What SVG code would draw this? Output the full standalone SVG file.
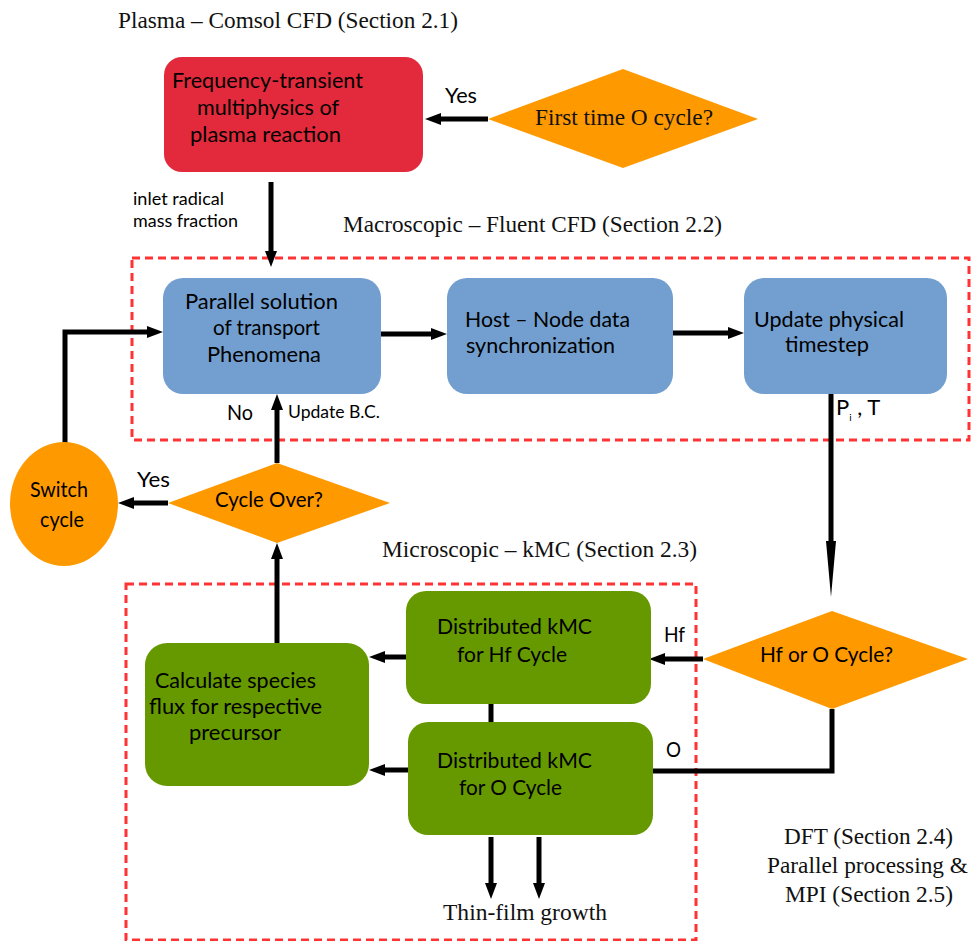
<svg xmlns="http://www.w3.org/2000/svg" width="971" height="941" viewBox="0 0 971 941">
<style>
.serif{font-family:"Liberation Serif","Times New Roman",serif;font-size:23px;fill:#111}
.sans{font-family:Lato,"Liberation Sans",sans-serif;font-size:22px;fill:#000}
.sm{font-size:17px}
.red{fill:#e32a3c}
.blue{fill:#729fcf}
.green{fill:#669900}
.orange{fill:#ff9900}
.dash{fill:none;stroke:#ff3333;stroke-width:3;stroke-dasharray:8 5}
.ln{fill:none;stroke:#000;stroke-width:5}
.ar{fill:none;stroke:#000;stroke-width:5;marker-end:url(#ah)}
</style>
<defs>
<marker id="ah" markerUnits="userSpaceOnUse" markerWidth="16" markerHeight="12" refX="4" refY="6" orient="auto">
<path d="M0,0 L16,6 L0,12 z" fill="#000"/>
</marker>
<marker id="ahl" markerUnits="userSpaceOnUse" markerWidth="56" markerHeight="10" refX="2" refY="5" orient="auto">
<path d="M0,0 L56,5 L0,10 z" fill="#000"/>
</marker>
</defs>
<rect width="971" height="941" fill="#fff"/>

<g id="labels">
<text class="serif" x="118" y="28" textLength="340" lengthAdjust="spacingAndGlyphs">Plasma – Comsol CFD (Section 2.1)</text>
<text class="serif" x="343" y="232" textLength="379" lengthAdjust="spacingAndGlyphs">Macroscopic – Fluent CFD (Section 2.2)</text>
<text class="serif" x="382" y="557" textLength="315" lengthAdjust="spacingAndGlyphs">Microscopic – kMC (Section 2.3)</text>
<text class="serif" x="784" y="844" textLength="169" lengthAdjust="spacingAndGlyphs">DFT (Section 2.4)</text>
<text class="serif" x="767" y="873" textLength="201" lengthAdjust="spacingAndGlyphs">Parallel processing &amp;</text>
<text class="serif" x="785" y="902" textLength="168" lengthAdjust="spacingAndGlyphs">MPI (Section 2.5)</text>
<text class="serif" x="443" y="920" textLength="164" lengthAdjust="spacingAndGlyphs">Thin-film growth</text>
</g>

<g id="frames">
<rect class="dash" x="132" y="258" width="837" height="182"/>
<rect class="dash" x="126" y="584" width="570" height="356"/>
</g>

<g id="connectors">
<path class="ar" d="M271,182 V255"/>
<path class="ar" d="M488,119 H437"/>
<path class="ar" d="M381,334 H435"/>
<path class="ar" d="M673,333 H732"/>
<path d="M831,394 V543" fill="none" stroke="#000" stroke-width="5" marker-end="url(#ahl)"/>
<path class="ar" d="M703,659 H661"/>
<path class="ln" d="M832,709 V771 H653"/>
<path class="ar" d="M406,657 H381"/>
<path class="ar" d="M409,770 H381"/>
<path class="ln" d="M491,704 V722"/>
<path class="ar" d="M277,643 V555"/>
<path class="ar" d="M277,463 V406"/>
<path class="ar" d="M168,503 H130"/>
<path class="ar" d="M65,443 V332 H151"/>
<path class="ar" d="M491,837 V887"/>
<path class="ar" d="M539,837 V887"/>
<text class="sans" x="445" y="103" font-size="20" textLength="32" lengthAdjust="spacingAndGlyphs">Yes</text>
<text class="sans sm" x="133" y="205" textLength="91" lengthAdjust="spacingAndGlyphs">inlet radical</text>
<text class="sans sm" x="133" y="227" textLength="105" lengthAdjust="spacingAndGlyphs">mass fraction</text>
<text class="sans" x="227" y="420" font-size="20" textLength="26" lengthAdjust="spacingAndGlyphs">No</text>
<text class="sans sm" x="288" y="418" textLength="92" lengthAdjust="spacingAndGlyphs">Update B.C.</text>
<text class="sans" x="137" y="487" font-size="20" textLength="33" lengthAdjust="spacingAndGlyphs">Yes</text>
<text class="sans" x="836" y="415" font-size="17">P<tspan dy="6" font-size="10">i</tspan><tspan dy="-6"> , T</tspan></text>
<text class="sans" x="664" y="642" font-size="20" textLength="21" lengthAdjust="spacingAndGlyphs">Hf</text>
<text class="sans" x="666" y="757" font-size="20" textLength="15" lengthAdjust="spacingAndGlyphs">O</text>
</g>

<g id="plasma">
<rect class="red" x="164" y="57" width="259" height="115" rx="18"/>
<text class="sans" x="172" y="88" textLength="191" lengthAdjust="spacingAndGlyphs">Frequency-transient</text>
<text class="sans" x="197" y="115" textLength="142" lengthAdjust="spacingAndGlyphs">multiphysics of</text>
<text class="sans" x="190" y="142" textLength="151" lengthAdjust="spacingAndGlyphs">plasma reaction</text>
</g>

<g id="first-time">
<polygon class="orange" points="488,119 623,69 758,119 623,168"/>
<text class="serif" x="535" y="125" textLength="178" lengthAdjust="spacingAndGlyphs">First time O cycle?</text>
</g>

<g id="parallel">
<rect class="blue" x="163" y="278" width="218" height="116" rx="20"/>
<text class="sans" x="185" y="309" textLength="153" lengthAdjust="spacingAndGlyphs">Parallel solution</text>
<text class="sans" x="213" y="335" textLength="107" lengthAdjust="spacingAndGlyphs">of transport</text>
<text class="sans" x="207" y="362" textLength="114" lengthAdjust="spacingAndGlyphs">Phenomena</text>
</g>

<g id="host">
<rect class="blue" x="447" y="278" width="226" height="116" rx="20"/>
<text class="sans" x="465" y="327" textLength="165" lengthAdjust="spacingAndGlyphs">Host – Node data</text>
<text class="sans" x="466" y="353" textLength="149" lengthAdjust="spacingAndGlyphs">synchronization</text>
</g>

<g id="timestep">
<rect class="blue" x="744" y="278" width="203" height="116" rx="20"/>
<text class="sans" x="754" y="327" textLength="150" lengthAdjust="spacingAndGlyphs">Update physical</text>
<text class="sans" x="785" y="352" textLength="84" lengthAdjust="spacingAndGlyphs">timestep</text>
</g>

<g id="cycle-over">
<polygon class="orange" points="168,503 277,463 390,503 277,543"/>
<text class="sans" x="215" y="507" textLength="108" lengthAdjust="spacingAndGlyphs">Cycle Over?</text>
</g>

<g id="switch">
<ellipse class="orange" cx="64" cy="504" rx="54" ry="62"/>
<text class="sans" x="30" y="497" textLength="58" lengthAdjust="spacingAndGlyphs">Switch</text>
<text class="sans" x="40" y="527" textLength="44" lengthAdjust="spacingAndGlyphs">cycle</text>
</g>

<g id="hf-or-o">
<polygon class="orange" points="703,659 832,611 968,659 832,709"/>
<text class="sans" x="760" y="662" textLength="133" lengthAdjust="spacingAndGlyphs">Hf or O Cycle?</text>
</g>

<g id="kmc-hf">
<rect class="green" x="406" y="591" width="245" height="113" rx="20"/>
<text class="sans" x="437" y="634" textLength="155" lengthAdjust="spacingAndGlyphs">Distributed kMC</text>
<text class="sans" x="457" y="662" textLength="110" lengthAdjust="spacingAndGlyphs">for Hf Cycle</text>
</g>

<g id="kmc-o">
<rect class="green" x="408" y="722" width="245" height="113" rx="20"/>
<text class="sans" x="437" y="768" textLength="155" lengthAdjust="spacingAndGlyphs">Distributed kMC</text>
<text class="sans" x="459" y="795" textLength="103" lengthAdjust="spacingAndGlyphs">for O Cycle</text>
</g>

<g id="calc-flux">
<rect class="green" x="145" y="643" width="224" height="143" rx="22"/>
<text class="sans" x="155" y="688" textLength="161" lengthAdjust="spacingAndGlyphs">Calculate species</text>
<text class="sans" x="149" y="714" textLength="173" lengthAdjust="spacingAndGlyphs">flux for respective</text>
<text class="sans" x="189" y="740" textLength="92" lengthAdjust="spacingAndGlyphs">precursor</text>
</g>
</svg>
